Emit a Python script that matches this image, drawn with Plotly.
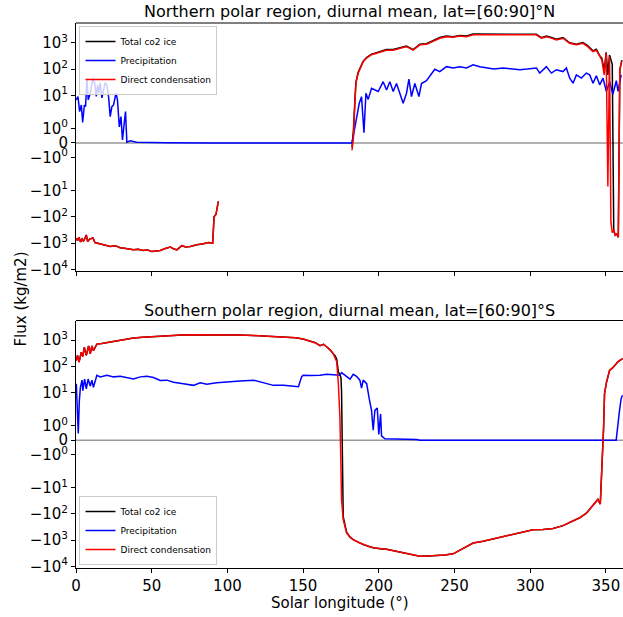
import math
import plotly.graph_objects as go

# ---- Northern polar region (lat 60..90 N) ----
N_LS_PRECIP = [0.2, 1.3, 2.4, 3.5, 4.4, 5.5, 6.3, 7.2, 8.1, 9.4, 11.2, 12.3, 13.4, 14.3, 15.1, 16.0,
               17.1, 18.2, 19.3, 20.4, 21.5, 22.6, 23.7, 24.8, 26.4, 27.4, 28.6, 29.7, 30.7, 31.9,
               32.7, 33.6, 35.8, 40, 45, 60, 90, 120, 150, 180, 182.1, 183.1, 185.3, 187.1, 188.6,
               190.2, 191.5, 193, 195.2, 197.4, 199.6, 202.9, 205.1, 207.3, 209.5, 211.7, 213.9,
               216.1, 218.3, 219.9, 221.6, 223.8, 226.5, 228.2, 231.5, 234.8, 237, 240.3, 244.7,
               249.1, 253.5, 257.9, 262.3, 266.7, 271.1, 276, 282.1, 287, 293.1, 298, 304.1, 306.3,
               310.7, 314, 317.3, 321.7, 323.9, 326.1, 328.3, 330.5, 333.8, 337.1, 339.3, 341.5,
               343.7, 345.9, 348.1, 350.3, 352.5, 354.6, 356.9, 358, 360.1]
N_PRECIP = [6.7, 8.9, 2.4, 4.3, 1.4, 4.3, 3.7, 39, 6.7, 12, 45, 30, 9, 25, 12, 30,
            8, 17, 30, 25, 9, 1.8, 3.7, 4.3, 12, 6.7, 1.1, 1.8, 0.2, 1.4,
            2.4, 0.05, 0.15, 0.05, 0.03, 0.01, 0, 0, 0, 0, 0, 0.43, 1.6, 5, 8.9,
            0.7, 12, 7, 18.6, 16, 14, 33, 16, 33, 14, 28, 10.7,
            5, 12, 41, 9, 28, 9, 28, 36, 70, 98, 80, 123,
            110, 123, 110, 144, 123, 110, 100, 110, 105, 94, 100, 110, 70,
            123, 70, 94, 80, 110, 45, 29, 60, 45, 70, 60, 29,
            55, 25, 45, 14, 33, 11, 36, 14, 60]

N_LS_COND = [0.2, 1, 2, 3, 4, 5, 6.8, 7.7, 9, 11.2, 12.5, 14, 18.4, 22.6, 26, 29.2, 33, 38, 41,
             44.6, 47, 50.1, 53, 55.6, 59, 62.2, 64, 66.6, 69.9, 72.5, 75.4, 79.8, 84.2, 87.5,
             90.3, 91.2, 92.5, 94, 140, 182.3, 183.2, 184.2, 184.9, 186.4, 188, 189.7, 191.9,
             195.2, 198.5, 201.8, 205, 209.5, 213.9, 218.3, 222.7, 227.1, 231.5, 235.9, 240.3,
             244.7, 249.1, 253.5, 257.9, 262.3, 266.7, 271, 276, 282, 287, 293, 298, 304, 307.4,
             310.7, 314, 317.3, 321.7, 326, 330.5, 334.8, 338, 341.4, 343.7, 345.8, 347.3, 348.9,
             350.2, 351.3, 352.4, 353.3, 354.2, 355.2, 356.2, 357.2, 358.2, 359.2, 360.5]
N_COND = [-650, -800, -600, -900, -700, -850, -490, -870, -700, -640, -950, -1000, -1100, -1350,
          -1250, -1500, -1600, -1800, -1700, -1900, -1800, -2100, -2000, -1900, -1600, -1400,
          -1600, -1800, -1250, -1400, -1350, -1150, -1050, -950, -1000, -100, -80, -26, None,
          -0.5, 0.3, 5, 29, 70, 110, 190, 260, 350, 400, 460, 520, 520, 620, 710, 520, 830, 870,
          1100, 1480, 1700, 1600, 1800, 1700, 2000, 2000, 1950, 2050, 2000, 2000, 2050, 2000,
          2000, 1480, 1700, 1500, 1270, 1480, 950, 830, 950, 710, 460, 520, 300, 225, 60, 400,
          -7, 300, -150, -400, -300, -500, -450, -600, 100, 200]
N_TOTAL = [-650, -800, -600, -900, -700, -850, -490, -870, -700, -640, -950, -1000, -1100, -1350,
           -1250, -1500, -1600, -1800, -1700, -1900, -1800, -2100, -2000, -1900, -1600, -1400,
           -1600, -1800, -1250, -1400, -1350, -1150, -1050, -950, -1000, -100, -80, -26, None,
           -0.3, 0.8, 6, 32, 75, 118, 200, 275, 370, 420, 490, 550, 550, 650, 740, 550, 880, 920,
           1170, 1570, 1800, 1700, 1900, 1800, 2130, 2120, 2070, 2160, 2110, 2110, 2150, 2100,
           2110, 1560, 1800, 1570, 1360, 1560, 1000, 870, 1010, 770, 490, 570, 330, 260, 90, 430,
           60, 340, 200, 150, -350, -500, -450, -600, 90, 220]

# ---- Southern polar region (lat 60..90 S) ----
S_LS_PRECIP = [0.2, 0.8, 1.5, 2.2, 2.9, 4, 4.5, 5.7, 6.8, 8, 9.4, 10.5, 11.5, 13.8, 16, 20.4, 25,
               29.2, 33.6, 38, 42.4, 46.8, 51.2, 55.6, 60, 64.4, 71, 77.6, 82, 86.4, 93, 99.6,
               108.4, 117.2, 123.8, 130.4, 137, 143.6, 146.9, 149, 150, 155, 161.2, 165.5, 170,
               174.3, 175.4, 178.7, 181, 183.1, 185.3, 187.5, 188.6, 189.7, 192, 193.7, 195.2,
               196.3, 197.4, 199, 200, 201.2, 201.8, 204, 207.3, 214, 220, 225, 227.1, 250, 300,
               356.8, 359, 360.1, 361]
S_PRECIP = [22, 5, 0.46, 5, 16, 30, 12, 33, 14, 33, 18, 30, 16, 46, 40, 46, 40,
            42, 36, 33, 40, 42, 38, 29, 30, 25, 22, 19, 24, 21, 24, 25,
            28, 30, 24, 19, 19, 17, 17, 40, 46, 45, 46, 50, 48,
            46, 58, 40, 33, 50, 42, 30, 15, 30, 22, 5.8, 2.1,
            0.68, 2.1, 2.6, 0.4, 1.8, 0.3, 0.1, 0.1, 0.1, 0.08, 0.05, 0, 0, 0,
            0, 2.1, 6, 8]

S_LS_COND = [0.2, 1, 2, 3.5, 4.5, 5.5, 6.8, 8.3, 9.4, 10.5, 11.5, 13.8, 17, 20.4, 25, 29.2, 33, 38,
             44, 50.1, 55, 60, 70, 77.6, 88, 99.6, 108, 117, 128, 139, 145, 150, 155, 158, 161.2,
             163.5, 165.5, 168, 170, 171.2, 172.2, 173.3, 174.3, 175, 175.4, 176.5, 178.7, 180.9,
             183.1, 186.4, 189.7, 193, 196.3, 200.7, 205.1, 210.6, 216.1, 221.6, 227.1, 232.6,
             238.1, 243.6, 249.1, 252.4, 255.7, 259, 262.3, 268.9, 275.5, 282.1, 288.7, 295.3,
             301.9, 308.5, 315.1, 321.7, 328.3, 332.7, 337.1, 340, 342.5, 344.7, 346.3, 347.6,
             348.5, 349.1, 350.2, 352.4, 354.6, 357.9, 361]
S_COND = [166, 264, 146, 350, 240, 530, 264, 600, 300, 600, 400, 710, 750, 810, 900, 1000, 1100,
          1200, 1280, 1350, 1420, 1500, 1560, 1600, 1620, 1600, 1560, 1500, 1430, 1350, 1250, 1100,
          900, 800, 620, 700, 560, 420, 300, 200, 150, 22, 1.6, -1.8, -29, -166, -530, -750, -950,
          -1200, -1480, -1700, -1950, -2100, -2200, -2600, -3000, -3500, -4100, -4000, -3900,
          -3700, -3300, -2600, -1950, -1600, -1280, -1100, -900, -750, -620, -500, -400, -390,
          -360, -280, -190, -140, -94, -60, -39, -28, -42, -1.8, 0.9, 9, 22, 70, 90, 150, 200]
S_TOTAL = [166, 264, 146, 350, 240, 530, 264, 600, 300, 600, 400, 710, 750, 810, 900, 1000, 1100,
           1200, 1280, 1350, 1420, 1500, 1560, 1600, 1620, 1600, 1560, 1500, 1430, 1350, 1250, 1100,
           900, 800, 620, 700, 560, 420, 300, 250, 190, 62, 48, 38, 11, -126, -490, -750, -950,
           -1200, -1480, -1700, -1950, -2100, -2200, -2600, -3000, -3500, -4100, -4000, -3900,
           -3700, -3300, -2600, -1950, -1600, -1280, -1100, -900, -750, -620, -500, -400, -390,
           -360, -280, -190, -140, -94, -60, -39, -28, -42, -1.8, 0.9, 9, 22, 70, 90, 150, 200]

X_TICKS = [0, 50, 100, 150, 200, 250, 300, 350]
Y_TICK_VALUES = [-1e4, -1e3, -1e2, -1e1, -1, 0, 1, 1e1, 1e2, 1e3]
Y_TICK_TEXT = ["−10<sup>4</sup>", "−10<sup>3</sup>", "−10<sup>2</sup>", "−10<sup>1</sup>",
               "−10<sup>0</sup>", "0", "10<sup>0</sup>", "10<sup>1</sup>", "10<sup>2</sup>",
               "10<sup>3</sup>"]

for a, b in [(N_LS_PRECIP, N_PRECIP), (N_LS_COND, N_COND), (N_LS_COND, N_TOTAL),
             (S_LS_PRECIP, S_PRECIP), (S_LS_COND, S_COND), (S_LS_COND, S_TOTAL)]:
    assert len(a) == len(b), (len(a), len(b), a[:3])

# matplotlib-style symlog (linthresh=2, linscale=1)
LINTHRESH = 2.0
LINSCALE = 1.0 / (1.0 - 1.0 / 10.0)


def symlog(v):
    if v is None:
        return None
    a = abs(v)
    if a <= LINTHRESH:
        return v / LINTHRESH * LINSCALE
    return math.copysign(LINSCALE + math.log10(a / LINTHRESH), v)


FONT = "DejaVu Sans, Verdana, sans-serif"
W, H = 623, 617
PLOT_L = 75.5


def py(sy):
    # pixel row -> paper fraction
    return 1 - sy / H


def px(sx):
    # pixel column -> paper fraction
    return (sx - PLOT_L) / (W - PLOT_L)


fig = go.Figure()

panels = [
    dict(xa="x", ya="y", leg="legend",
         series=[(N_LS_COND, N_TOTAL, "Total co2 ice", "black"),
                 (N_LS_PRECIP, N_PRECIP, "Precipitation", "blue"),
                 (N_LS_COND, N_COND, "Direct condensation", "red")]),
    dict(xa="x2", ya="y2", leg="legend2",
         series=[(S_LS_COND, S_TOTAL, "Total co2 ice", "black"),
                 (S_LS_PRECIP, S_PRECIP, "Precipitation", "blue"),
                 (S_LS_COND, S_COND, "Direct condensation", "red")]),
]

for p in panels:
    for xs, ys, name, col in p["series"]:
        fig.add_trace(go.Scatter(
            x=xs, y=[symlog(v) for v in ys], customdata=ys,
            mode="lines", name=name, legend=p["leg"],
            line=dict(color=col, width=1.5),
            xaxis=p["xa"], yaxis=p["ya"],
            hovertemplate=name + " Ls=%{x}: %{customdata}<extra></extra>",
        ))
    fig.add_shape(type="line", xref=p["xa"] + " domain", yref=p["ya"],
                  x0=0, x1=1, y0=0, y1=0, layer="below",
                  line=dict(color="#999999", width=1.5))

yrange = [-4.87, 4.56]
axis_common = dict(showline=True, linecolor="black", linewidth=1, mirror=False,
                   ticks="outside", ticklen=4, tickcolor="black", showgrid=False,
                   zeroline=False, automargin=False,
                   tickfont=dict(family=FONT, size=15, color="black"))

fig.update_layout(
    xaxis=dict(domain=[0, 1], range=[0, 361.3], anchor="y", tickvals=X_TICKS,
               showticklabels=False, **axis_common),
    yaxis=dict(domain=[py(271), py(23)], range=yrange, anchor="x",
               tickvals=[symlog(v) for v in Y_TICK_VALUES], ticktext=Y_TICK_TEXT,
               **axis_common),
    xaxis2=dict(domain=[0, 1], range=[0, 361.3], anchor="y2", tickvals=X_TICKS,
                **axis_common),
    yaxis2=dict(domain=[py(568), py(320.5)], range=yrange, anchor="x2",
                tickvals=[symlog(v) for v in Y_TICK_VALUES], ticktext=Y_TICK_TEXT,
                **axis_common),
)

# top spines (matplotlib frame)
for top in [py(23), py(320.5)]:
    fig.add_shape(type="line", xref="paper", yref="paper", x0=0, x1=1, y0=top, y1=top,
                  line=dict(color="black", width=1))

legend_common = dict(font=dict(family=FONT, size=9, color="black"), bgcolor="rgba(255,255,255,0.8)",
                     bordercolor="#cccccc", borderwidth=1, xanchor="left",
                     itemwidth=30, tracegroupgap=0)

fig.update_layout(
    width=W, height=H,
    margin=dict(l=PLOT_L, r=0, t=0, b=0, autoexpand=False),
    paper_bgcolor="white", plot_bgcolor="white",
    font=dict(family=FONT, size=15, color="black"),
    showlegend=True,
    legend=dict(x=px(79), y=py(26), yanchor="top", **legend_common),
    legend2=dict(x=px(79), y=py(565), yanchor="bottom", **legend_common),
    annotations=[
        dict(text="Northern polar region, diurnal mean, lat=[60:90]°N", x=0.5, y=py(12),
             xref="paper", yref="paper", showarrow=False, xanchor="center", yanchor="middle",
             font=dict(family=FONT, size=16)),
        dict(text="Southern polar region, diurnal mean, lat=[60:90]°S", x=0.5, y=py(310),
             xref="paper", yref="paper", showarrow=False, xanchor="center", yanchor="middle",
             font=dict(family=FONT, size=16)),
        dict(text="Flux (kg/m2)", x=px(20), y=py(299),
             xref="paper", yref="paper", showarrow=False, textangle=-90,
             xanchor="center", yanchor="middle", font=dict(family=FONT, size=15)),
        dict(text="Solar longitude (°)", x=px(340), y=py(603),
             xref="paper", yref="paper", showarrow=False, xanchor="center", yanchor="middle",
             font=dict(family=FONT, size=15)),
    ],
)

# drop the default 8px page margin so the figure sits at the window's corner
fig.write_html("out.html", config={"displayModeBar": False},
               post_script="document.body.style.margin='0px';")
